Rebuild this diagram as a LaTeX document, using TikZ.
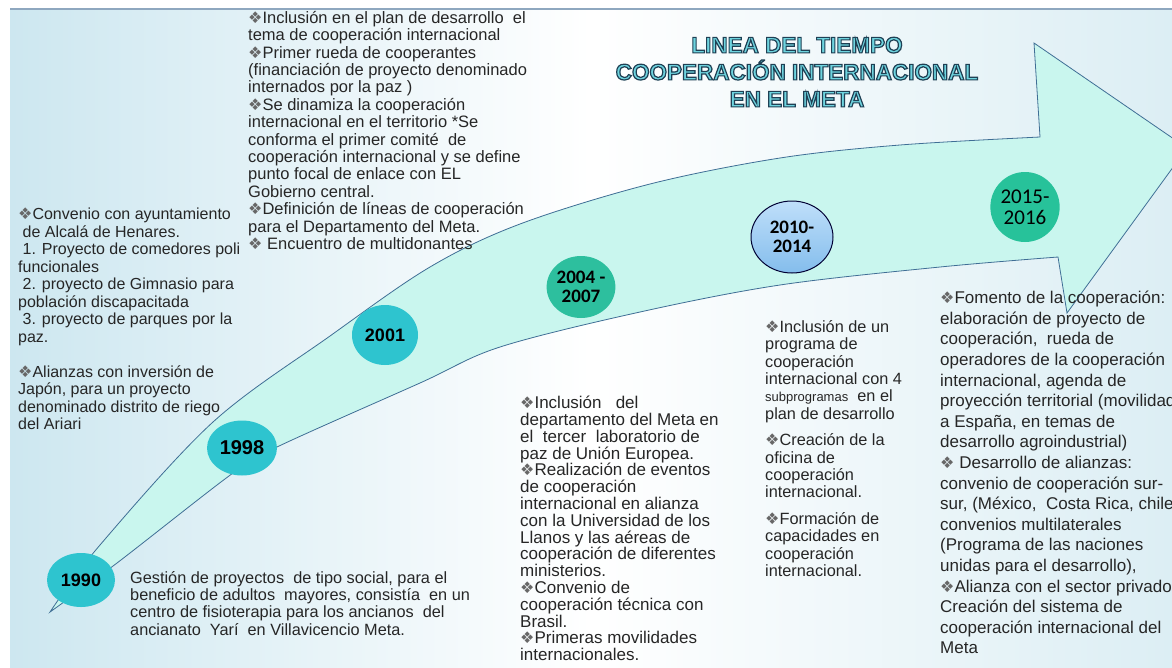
\documentclass[tikz,border=0pt]{standalone}
\usepackage{fontspec}
\setmainfont{Liberation Sans}
\newfontfamily\dejavu{DejaVu Sans}
\newfontfamily\carlito{Carlito}
\usetikzlibrary{shapes.geometric}
\definecolor{bgblue}{HTML}{CDE7F0}
\definecolor{bgright}{HTML}{DCEEF4}
\definecolor{shaftcol}{HTML}{C9F6EE}
\definecolor{edgecol}{HTML}{3F6E95}
\definecolor{turq}{HTML}{2EC4CF}
\definecolor{tealA}{HTML}{2DBF9E}
\definecolor{tealB}{HTML}{27C29A}
\definecolor{ellA}{HTML}{BFDFFA}
\definecolor{ellB}{HTML}{84BDEC}
\definecolor{txtcol}{HTML}{262626}
\definecolor{titlefill}{HTML}{6ED4DF}
\definecolor{toplinecol}{HTML}{8EA7BF}
\newcommand\bul{{\dejavu\fontsize{16}{10}\selectfont\textcolor{txtcol!70}{❖}}}
\newcommand\outl[1]{\special{pdf:literal direct 2 Tr 1.2 w 0.12 0.25 0.33 RG}#1\special{pdf:literal direct 0 Tr}}
\begin{document}
\begin{tikzpicture}[x=1pt,y=-1pt,
  txt/.style={anchor=north west, align=left, inner sep=0pt, text=txtcol,
    font=\fontsize{16.3}{17.4}\selectfont},
  yearc/.style={ellipse, inner sep=0pt, text=black,
    font=\fontsize{18}{19}\selectfont\bfseries},
  yearcal/.style={ellipse, inner sep=0pt, text=black, align=center,
    font=\carlito\fontsize{19}{19}\selectfont\bfseries},
  titlestyle/.style={align=center, inner sep=0pt, text=titlefill,
    font=\fontsize{22.5}{27}\selectfont\bfseries}]
\useasboundingbox (0,0) rectangle (1172,667);
\fill[white] (0,0) rectangle (1172,667);
\shade[left color=bgblue, right color=bgright, middle color=white] (10,9) rectangle (1172,667);
\draw[toplinecol, line width=1.2pt] (10,9) -- (1172,9);
% curved arrow
\filldraw[fill=shaftcol, draw=edgecol, line width=0.8pt, line join=miter]
  plot[smooth, tension=0.55] coordinates {(50,612) (100,545) (213,422) (330,336) (430,267) (520,224) (650,184) (780,158) (900,145) (1040,137)}
  -- (1034,43) -- (1187,148) -- (1067,313) -- (1058,257)
  -- plot[smooth, tension=0.55] coordinates {(1058,257) (940,267) (780,285) (640,312) (500,347) (420,383) (277,447) (233,473) (117,563) (50,612)}
  -- cycle;
% title
\node[titlestyle] (title) at (797,72) {\outl{LINEA DEL TIEMPO}\\\outl{COOPERACIÓN INTERNACIONAL}\\\outl{EN EL META}};
% year markers
\node[yearc, fill=turq, minimum width=68pt, minimum height=54pt] (y1990) at (81,580) {1990};
\node[yearc, fill=turq, minimum width=70pt, minimum height=55pt, font=\fontsize{20}{20}\selectfont\bfseries] (y1998) at (242,448) {1998};
\node[yearc, fill=turq, minimum width=66pt, minimum height=60pt] (y2001) at (385,335) {2001};
\node[yearcal, fill=tealA, minimum width=68pt, minimum height=62pt] (y2004) at (581,287) {2004 -\\2007};
\node[yearcal, top color=ellA, bottom color=ellB, draw=black!80!blue, line width=1pt, minimum width=82pt, minimum height=72pt] (y2010) at (792,237) {2010-\\2014};
\node[yearcal, fill=tealB, minimum width=66pt, minimum height=70pt, font=\carlito\fontsize{21}{21}\selectfont] (y2015) at (1025,207) {2015-\\2016};
% texts
\node[txt, font=\fontsize{16.5}{17.4}\selectfont] (t2001) at (248,11) {\bul Inclusión en el plan de desarrollo \ el\\
tema de cooperación internacional\\
\bul Primer rueda de cooperantes\\
(financiación de proyecto denominado\\
internados por la paz )\\
\bul Se dinamiza la cooperación\\
internacional en el territorio *Se\\
conforma el primer comité \ de\\
cooperación internacional y se define\\
punto focal de enlace con EL\\
Gobierno central.\\
\bul Definición de líneas de cooperación\\
para el Departamento del Meta.\\
\bul\ Encuentro de multidonantes};
\node[txt, font=\fontsize{16}{17.5}\selectfont] (t1998) at (18,208) {\bul Convenio con ayuntamiento\\
\ de Alcalá de Henares.\\
\ 1. Proyecto de comedores poli\\
funcionales\\
\ 2. proyecto de Gimnasio para\\
población discapacitada\\
\ 3. proyecto de parques por la\\
paz.\\[17.5pt]
\bul Alianzas con inversión de\\
Japón, para un proyecto\\
denominado distrito de riego\\
del Ariari};
\node[txt, font=\fontsize{16.3}{17.3}\selectfont] (t1990) at (130,571) {Gestión de proyectos \ de tipo social, para el\\
beneficio de adultos \ mayores, consistía \ en un\\
centro de fisioterapia para los ancianos \ del\\
ancianato \ Yarí \ en Villavicencio Meta.};
\node[txt, font=\fontsize{17}{16.8}\selectfont] (t2004) at (520,396) {\bul Inclusión \ \ del\\
departamento del Meta en\\
el \ tercer \ laboratorio de\\
paz de Unión Europea.\\
\bul Realización de eventos\\
de cooperación\\
internacional en alianza\\
con la Universidad de los\\
Llanos y las aéreas de\\
cooperación de diferentes\\
ministerios.\\
\bul Convenio de\\
cooperación técnica con\\
Brasil.\\
\bul Primeras movilidades\\
internacionales.};
\node[txt] (t2010) at (765,320) {\bul Inclusión de un\\
programa de\\
cooperación\\
internacional con 4\\
{\fontsize{13}{17.4}\selectfont subprogramas} \ en el\\
plan de desarrollo\\[9pt]
\bul Creación de la\\
oficina de\\
cooperación\\
internacional.\\[9pt]
\bul Formación de\\
capacidades en\\
cooperación\\
internacional.};
\node[txt, font=\fontsize{17}{20.6}\selectfont] (t2015) at (940,291) {\bul Fomento de la cooperación:\\
elaboración de proyecto de\\
cooperación, \ rueda de\\
operadores de la cooperación\\
internacional, agenda de\\
proyección territorial (movilidad\\
a España, en temas de\\
desarrollo agroindustrial)\\
\bul\ Desarrollo de alianzas:\\
convenio de cooperación sur-\\
sur, (México, \ Costa Rica, chile\\
convenios multilaterales\\
(Programa de las naciones\\
unidas para el desarrollo),\\
\bul Alianza con el sector privado\\
Creación del sistema de\\
cooperación internacional del\\
Meta};
\end{tikzpicture}
\end{document}
